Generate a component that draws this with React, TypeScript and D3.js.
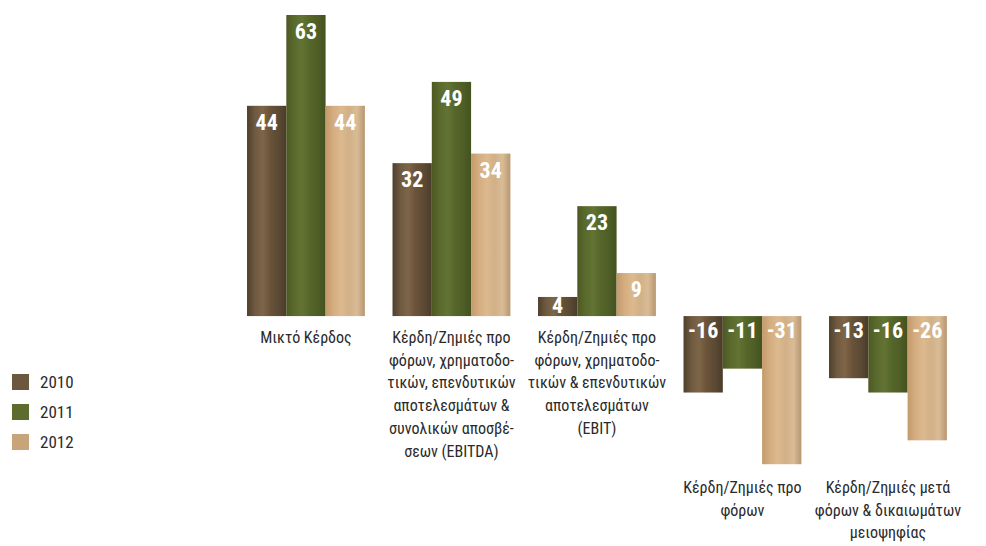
import React from "react";
import * as d3 from "d3";

const categories = ["gross", "ebitda", "ebit", "ebt", "net"];
const categoryLines: string[][] = [
  ["Μικτό Κέρδος"],
  ["Κέρδη/Ζημιές προ", "φόρων, χρηματοδο-", "τικών, επενδυτικών", "αποτελεσμάτων &", "συνολικών αποσβέ-", "σεων (EBITDA)"],
  ["Κέρδη/Ζημιές προ", "φόρων, χρηματοδο-", "τικών & επενδυτικών", "αποτελεσμάτων", "(EBIT)"],
  ["Κέρδη/Ζημιές προ", "φόρων"],
  ["Κέρδη/Ζημιές μετά", "φόρων & δικαιωμάτων", "μειοψηφίας"],
];
const seriesNames = ["2010", "2011", "2012"];
const values2010 = [44, 32, 4, -16, -13];
const values2011 = [63, 49, 23, -11, -16];
const values2012 = [44, 34, 9, -31, -26];
const seriesValues = [values2010, values2011, values2012];

const W = 986;
const H = 546;
const FONT = "'Liberation Sans Narrow', 'Roboto Condensed', 'DejaVu Sans Condensed', 'Liberation Sans', sans-serif";

const legendColors = ["#6b583f", "#5e6b2f", "#c7a47a"];
const gradStops = [
  ["#4e3f2c", "#6f5a40", "#7e6548", "#6a5238", "#5b4a34", "#4a3c2a"],
  ["#4d5824", "#5a6a2c", "#627334", "#55662a", "#4e5e26", "#44521f"],
  ["#c39a6c", "#d4ad80", "#dcb98e", "#d2b088", "#d8bc96", "#b89670"],
];

export default function App() {
  const x0 = d3
    .scaleBand<string>()
    .domain(categories)
    .range([233.2, 960.7])
    .paddingInner(0.19)
    .paddingOuter(0.095);
  const x1 = d3.scaleBand<string>().domain(seriesNames).range([0, x0.bandwidth()]);
  const y = d3.scaleLinear().domain([-32, 63]).range([469, 15]);
  const zero = y(0);
  const lineH = 22.7;

  return (
    <svg
      width={W}
      height={H}
      style={{ position: "absolute", left: 0, top: 0, background: "#fff" }}
      fontFamily={FONT}
    >
      <defs>
        {gradStops.map((stops, i) => (
          <linearGradient key={i} id={`g${i}`} x1="0" x2="1" y1="0" y2="0">
            {stops.map((c, j) => (
              <stop key={j} offset={j / (stops.length - 1)} stopColor={c} />
            ))}
          </linearGradient>
        ))}
      </defs>
      {categories.map((cat, ci) => (
        <g key={cat} transform={`translate(${x0(cat)},0)`}>
          {seriesNames.map((s, si) => {
            const v = seriesValues[si][ci];
            const top = Math.min(y(v), zero);
            const h = Math.abs(y(v) - zero);
            const bx = x1(s)!;
            const bw = x1.bandwidth();
            const ly = v >= 0 ? Math.min(y(v) + 24, zero - 3) : zero + 22;
            return (
              <g key={s}>
                <rect x={bx} y={top} width={bw} height={h} fill={`url(#g${si})`} />
                <text
                  x={bx + bw / 2}
                  y={ly}
                  textAnchor="middle"
                  fill="#fff"
                  fontWeight="bold"
                  fontSize={22}
                >
                  {v}
                </text>
              </g>
            );
          })}
        </g>
      ))}
      {categories.map((cat, ci) => {
        const minV = d3.min(seriesValues, (sv) => sv[ci])!;
        const base = minV >= 0 ? zero + 27 : y.range()[0] + 24;
        const cx = x0(cat)! + x0.bandwidth() / 2;
        return (
          <text key={cat} textAnchor="middle" fontSize={16} fill="#2a2a2a">
            {categoryLines[ci].map((ln, li) => (
              <tspan key={li} x={cx} y={base + li * lineH}>
                {ln}
              </tspan>
            ))}
          </text>
        );
      })}
      {seriesNames.map((s, si) => (
        <g key={s} transform={`translate(12,${374 + si * 30})`}>
          <rect width={17} height={16} fill={legendColors[si]} />
          <text x={28} y={14} fontSize={17} fill="#2a2a2a">
            {s}
          </text>
        </g>
      ))}
    </svg>
  );
}
